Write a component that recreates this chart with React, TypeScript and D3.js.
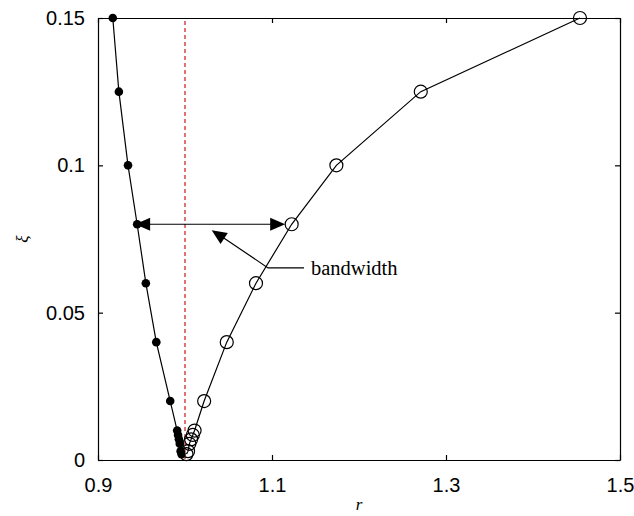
import React, { useRef, useEffect } from 'react';
import * as d3 from 'd3';

// damping ratio (y) and the two half-power frequency ratios (x)
const xiValues = [0.15, 0.125, 0.1, 0.08, 0.06, 0.04, 0.02, 0.01, 0.0085, 0.007, 0.0055, 0.003, 0.002];
const rLower = [0.917, 0.924, 0.9345, 0.945, 0.955, 0.967, 0.983, 0.991, 0.992, 0.993, 0.994, 0.995, 0.996];
const rUpper = [1.454, 1.271, 1.174, 1.1226, 1.0816, 1.048, 1.022, 1.011, 1.009, 1.007, 1.005, 1.0035, 1.0017];

const xTicks = [0.9, 1.1, 1.3, 1.5];
const yTicks = [0, 0.05, 0.1, 0.15];

// annotation: index of the bandwidth arrow, pointer tip/tail, label
const bandIndex = 3;
const pointerTip = [1.0307, 0.078];
const pointerTail = [1.0954, 0.0652];
const leaderEnd = 1.1368;
const labelText = 'bandwidth';

const W = 634, H = 516;
const margin = { left: 98, right: 14, top: 18, bottom: 56 };

function arrowHead(tipX: number, tipY: number, fromX: number, fromY: number, len = 15, half = 6.5) {
  const a = Math.atan2(tipY - fromY, tipX - fromX);
  const bx = tipX - len * Math.cos(a), by = tipY - len * Math.sin(a);
  const px = -Math.sin(a) * half, py = Math.cos(a) * half;
  return `M${tipX},${tipY}L${bx + px},${by + py}L${bx - px},${by - py}Z`;
}

export default function App() {
  const svgRef = useRef<SVGSVGElement>(null);

  useEffect(() => {
    const svg = d3.select(svgRef.current);
    svg.selectAll('*').remove();

    const x = d3.scaleLinear().domain([0.9, 1.5]).range([margin.left, W - margin.right]);
    const y = d3.scaleLinear().domain([0, 0.15]).range([H - margin.bottom, margin.top]);

    const x0 = x.range()[0], x1 = x.range()[1];
    const y0 = y.range()[0], y1 = y.range()[1];

    // axes (ticks pointing inward)
    const bottom = svg.append('g').attr('transform', `translate(0,${y0})`)
      .call(d3.axisBottom(x).tickValues(xTicks).tickSizeInner(-5).tickSizeOuter(0).tickPadding(18).tickFormat(d3.format('')));
    const left = svg.append('g').attr('transform', `translate(${x0},0)`)
      .call(d3.axisLeft(y).tickValues(yTicks).tickSizeInner(-5).tickSizeOuter(0).tickPadding(13).tickFormat(d3.format('')));
    svg.append('g').attr('transform', `translate(0,${y1})`)
      .call(d3.axisTop(x).tickValues(xTicks).tickSizeInner(-5).tickSizeOuter(0).tickFormat(() => ''));
    svg.append('g').attr('transform', `translate(${x1},0)`)
      .call(d3.axisRight(y).tickValues(yTicks).tickSizeInner(-5).tickSizeOuter(0).tickFormat(() => ''));

    svg.selectAll('.domain, .tick line').attr('stroke', '#000').attr('stroke-width', 1.2);
    [bottom, left].forEach(g => g.selectAll('text')
      .attr('font-family', 'Arial, "Liberation Sans", sans-serif')
      .attr('font-size', 20)
      .attr('fill', '#000'));

    // axis titles
    svg.append('text')
      .attr('x', (x0 + x1) / 2).attr('y', 510)
      .attr('text-anchor', 'middle')
      .attr('font-family', '"Liberation Serif", "Times New Roman", serif')
      .attr('font-style', 'italic').attr('font-size', 17)
      .text('r');
    svg.append('text')
      .attr('transform', `translate(28,${(y0 + y1) / 2}) rotate(-90)`)
      .attr('text-anchor', 'middle')
      .attr('font-family', '"Liberation Serif", "Times New Roman", serif')
      .attr('font-style', 'italic').attr('font-size', 17)
      .text('ξ');

    // reference line r = 1
    svg.append('line')
      .attr('x1', x(1)).attr('x2', x(1)).attr('y1', y1 + 3).attr('y2', y0)
      .attr('stroke', '#c80000').attr('stroke-width', 1.1).attr('stroke-dasharray', '4,3');

    const lower = xiValues.map((v, i) => [rLower[i], v]);
    const upper = xiValues.map((v, i) => [rUpper[i], v]);
    const line = d3.line<number[]>().x(d => x(d[0])).y(d => y(d[1]));

    svg.append('path').attr('d', line(lower)).attr('fill', 'none').attr('stroke', '#000').attr('stroke-width', 1.2);
    svg.append('path').attr('d', line(upper)).attr('fill', 'none').attr('stroke', '#000').attr('stroke-width', 1.2);

    svg.selectAll('.low-pt').data(lower).enter().append('circle')
      .attr('class', 'low-pt')
      .attr('cx', d => x(d[0])).attr('cy', d => y(d[1])).attr('r', 4.3)
      .attr('fill', '#000');

    svg.selectAll('.up-pt').data(upper).enter().append('circle')
      .attr('class', 'up-pt')
      .attr('cx', d => x(d[0])).attr('cy', d => y(d[1])).attr('r', 6.5)
      .attr('fill', 'none').attr('stroke', '#000').attr('stroke-width', 1.2);

    // bandwidth double arrow
    const ay = y(xiValues[bandIndex]);
    const ax1 = x(rLower[bandIndex]) - 2;
    const ax2 = x(rUpper[bandIndex]) - 6.5;
    svg.append('line').attr('x1', ax1 + 10).attr('x2', ax2 - 10).attr('y1', ay).attr('y2', ay)
      .attr('stroke', '#000').attr('stroke-width', 1.2);
    svg.append('path').attr('d', arrowHead(ax1, ay, ax2, ay)).attr('fill', '#000');
    svg.append('path').attr('d', arrowHead(ax2, ay, ax1, ay)).attr('fill', '#000');

    // pointer to the label
    const tx = x(pointerTip[0]), ty = y(pointerTip[1]);
    const sx = x(pointerTail[0]), sy = y(pointerTail[1]);
    svg.append('path').attr('d', `M${x(leaderEnd)},${sy}L${sx},${sy}L${tx + 8},${ty + 5}`)
      .attr('fill', 'none').attr('stroke', '#000').attr('stroke-width', 1.2);
    svg.append('path').attr('d', arrowHead(tx, ty, sx, sy)).attr('fill', '#000');
    svg.append('text')
      .attr('x', x(leaderEnd) + 7).attr('y', sy + 7)
      .attr('font-family', '"Liberation Serif", "Times New Roman", serif')
      .attr('font-size', 20.5)
      .text(labelText);
  }, []);

  return (
    <svg ref={svgRef} width={W} height={H} style={{ position: 'absolute', left: 0, top: 0, background: '#fff' }} />
  );
}
